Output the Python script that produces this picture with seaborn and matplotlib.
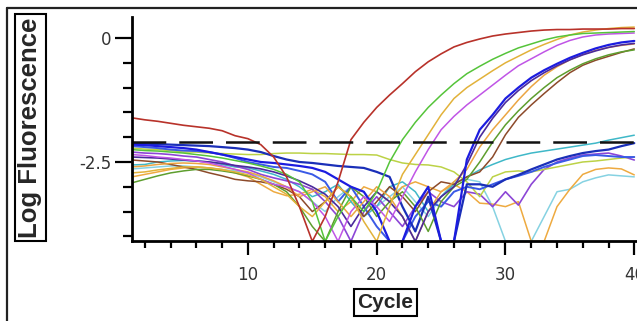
import numpy as np
import pandas as pd
import matplotlib
matplotlib.use("Agg")
import matplotlib.pyplot as plt
from matplotlib.lines import Line2D
import seaborn as sns

cycles = list(range(1, 41))

# amplifying wells
red = [-1.61,-1.65,-1.68,-1.72,-1.76,-1.79,-1.82,-1.87,-1.97,-2.03,-2.15,-2.40,-2.80,-3.40,-4.10,-3.60,-2.90,-2.05,-1.70,-1.40,-1.15,-0.92,-0.68,-0.48,-0.32,-0.18,-0.09,-0.02,0.04,0.08,0.11,0.14,0.16,0.17,0.17,0.18,0.18,0.18,0.19,0.19]
green = [-2.25,-2.27,-2.28,-2.30,-2.32,-2.35,-2.38,-2.42,-2.47,-2.52,-2.58,-2.65,-2.75,-2.90,-3.30,-4.10,-3.60,-3.20,-3.50,-3.10,-2.50,-2.05,-1.70,-1.40,-1.15,-0.92,-0.72,-0.57,-0.43,-0.31,-0.20,-0.12,-0.04,0.02,0.06,0.09,0.10,0.11,0.12,0.13]
yellow = [-2.72,-2.70,-2.66,-2.63,-2.60,-2.60,-2.62,-2.66,-2.70,-2.76,-2.85,-3.00,-3.15,-3.40,-3.60,-3.30,-3.00,-3.20,-3.70,-4.10,-3.40,-2.75,-2.35,-1.95,-1.55,-1.22,-1.00,-0.83,-0.66,-0.50,-0.37,-0.24,-0.13,-0.03,0.06,0.12,0.16,0.19,0.21,0.22]
magenta = [-2.35,-2.37,-2.40,-2.42,-2.45,-2.48,-2.52,-2.58,-2.65,-2.72,-2.85,-2.95,-3.00,-3.10,-3.30,-3.60,-4.10,-3.50,-3.20,-3.40,-3.70,-3.20,-2.70,-2.25,-1.85,-1.58,-1.35,-1.15,-0.95,-0.75,-0.56,-0.42,-0.28,-0.15,-0.05,0.02,0.06,0.08,0.09,0.10]
blue = [-2.15,-2.16,-2.18,-2.20,-2.22,-2.25,-2.30,-2.35,-2.40,-2.45,-2.50,-2.52,-2.55,-2.58,-2.62,-2.70,-2.85,-3.00,-3.10,-3.50,-4.10,-4.10,-3.40,-3.00,-4.10,-4.10,-2.45,-1.85,-1.55,-1.22,-1.00,-0.80,-0.65,-0.52,-0.40,-0.30,-0.21,-0.14,-0.09,-0.06]
indigo = [-2.40,-2.41,-2.42,-2.44,-2.46,-2.48,-2.50,-2.53,-2.57,-2.60,-2.64,-2.70,-2.78,-2.88,-3.00,-3.15,-3.40,-3.80,-3.40,-3.10,-3.30,-3.60,-4.10,-3.50,-3.20,-3.00,-2.55,-2.00,-1.62,-1.30,-1.06,-0.86,-0.70,-0.56,-0.44,-0.34,-0.26,-0.19,-0.14,-0.11]
late_orange = [-2.60,-2.58,-2.55,-2.53,-2.52,-2.53,-2.55,-2.60,-2.65,-2.70,-2.78,-2.88,-3.00,-3.20,-3.10,-3.00,-3.30,-3.60,-3.30,-3.00,-3.20,-3.60,-4.10,-3.50,-3.10,-2.90,-2.65,-2.20,-1.85,-1.55,-1.25,-0.98,-0.75,-0.58,-0.44,-0.33,-0.25,-0.19,-0.15,-0.12]
late_green = [-2.92,-2.85,-2.78,-2.72,-2.68,-2.65,-2.65,-2.68,-2.72,-2.78,-2.85,-2.95,-3.10,-3.40,-3.80,-4.10,-3.50,-3.00,-3.20,-3.60,-3.30,-3.10,-3.40,-3.90,-3.30,-3.00,-2.85,-2.50,-2.10,-1.75,-1.47,-1.22,-1.00,-0.80,-0.65,-0.52,-0.42,-0.34,-0.28,-0.24]
brown = [-2.46,-2.48,-2.50,-2.55,-2.60,-2.65,-2.72,-2.78,-2.85,-2.88,-2.90,-2.95,-3.05,-3.20,-3.50,-3.30,-3.00,-3.20,-3.60,-3.30,-3.00,-3.20,-3.50,-3.10,-2.90,-2.95,-2.80,-2.70,-2.40,-1.95,-1.60,-1.35,-1.12,-0.90,-0.70,-0.55,-0.45,-0.37,-0.29,-0.22]

# non-amplifying wells
navy = [-2.12,-2.13,-2.14,-2.15,-2.16,-2.17,-2.18,-2.20,-2.22,-2.25,-2.30,-2.38,-2.45,-2.50,-2.52,-2.55,-2.58,-2.60,-2.62,-2.70,-2.80,-3.40,-3.90,-3.20,-4.10,-4.10,-2.95,-2.95,-3.00,-2.85,-2.76,-2.65,-2.55,-2.45,-2.38,-2.32,-2.28,-2.25,-2.18,-2.12]
cyan = [-2.56,-2.55,-2.50,-2.48,-2.47,-2.48,-2.50,-2.55,-2.60,-2.62,-2.68,-2.75,-2.85,-3.00,-3.20,-3.10,-2.95,-3.30,-3.60,-3.40,-3.00,-2.90,-3.10,-3.50,-3.20,-2.95,-2.80,-2.66,-2.55,-2.45,-2.38,-2.32,-2.28,-2.24,-2.20,-2.16,-2.12,-2.06,-2.01,-1.96]
blue2 = [-2.18,-2.20,-2.22,-2.25,-2.27,-2.28,-2.30,-2.35,-2.42,-2.50,-2.55,-2.60,-2.62,-2.68,-2.75,-2.90,-3.30,-3.00,-3.40,-3.80,-4.10,-4.10,-3.60,-3.30,-3.40,-3.10,-3.00,-3.05,-2.95,-2.85,-2.78,-2.70,-2.60,-2.52,-2.45,-2.38,-2.36,-2.38,-2.40,-2.40]
purple = [-2.30,-2.32,-2.33,-2.35,-2.38,-2.40,-2.45,-2.50,-2.58,-2.65,-2.75,-2.82,-2.88,-2.95,-3.05,-3.30,-3.60,-4.10,-3.50,-3.20,-3.50,-3.80,-3.40,-3.10,-3.30,-3.40,-3.10,-3.15,-3.40,-3.10,-3.37,-2.95,-2.65,-2.50,-2.42,-2.36,-2.34,-2.32,-2.38,-2.46]
orange = [-2.80,-2.75,-2.70,-2.65,-2.62,-2.60,-2.62,-2.65,-2.72,-2.80,-2.95,-3.10,-3.18,-3.15,-3.05,-3.20,-3.50,-3.30,-3.00,-3.10,-3.30,-3.00,-2.90,-3.00,-3.10,-2.95,-3.10,-3.33,-3.35,-3.40,-3.30,-4.10,-4.10,-3.40,-3.05,-2.75,-2.65,-2.62,-2.64,-2.76]
light_cyan = [-2.64,-2.62,-2.60,-2.58,-2.58,-2.60,-2.62,-2.65,-2.68,-2.72,-2.80,-2.90,-3.00,-3.10,-3.30,-3.50,-3.20,-3.00,-3.10,-3.40,-3.20,-3.00,-3.30,-3.60,-3.20,-2.90,-2.85,-2.90,-3.40,-4.10,-4.10,-4.10,-3.60,-3.10,-3.05,-2.90,-2.82,-2.76,-2.78,-2.80]
yellow_green = [-2.22,-2.24,-2.25,-2.27,-2.30,-2.30,-2.32,-2.33,-2.34,-2.35,-2.35,-2.33,-2.32,-2.32,-2.33,-2.33,-2.34,-2.35,-2.35,-2.36,-2.45,-2.52,-2.55,-2.56,-2.60,-2.70,-2.90,-3.20,-2.80,-2.70,-2.68,-2.70,-2.65,-2.60,-2.55,-2.50,-2.48,-2.45,-2.42,-2.40]

threshold = -2.1
x_major = [10, 20, 30, 40]
y_major = [0, -2.5]
y_major_labels = ["0", "-2.5"]

series = [
    ("light_cyan", light_cyan, "#86d2e2", 1.1),
    ("orange", orange, "#eeaa40", 1.1),
    ("cyan", cyan, "#3fb8c8", 1.1),
    ("purple", purple, "#8c46d6", 1.2),
    ("yellow_green", yellow_green, "#bcd246", 1.1),
    ("blue2", blue2, "#3a5ae6", 1.4),
    ("navy", navy, "#1a2fb8", 1.6),
    ("brown", brown, "#8c4a2a", 1.1),
    ("late_green", late_green, "#5e9e2e", 1.1),
    ("late_orange", late_orange, "#eba542", 1.1),
    ("indigo", indigo, "#4b2a9c", 1.2),
    ("blue", blue, "#1c1ce0", 1.6),
    ("magenta", magenta, "#c055e6", 1.1),
    ("yellow", yellow, "#e2b23a", 1.1),
    ("green", green, "#55c43a", 1.1),
    ("red", red, "#b8322a", 1.2),
]

sns.set_style("white")
plt.rcParams["font.family"] = ["DejaVu Sans"]

fig = plt.figure(figsize=(6.37, 3.21), dpi=100)
fig.patch.set_facecolor("white")
W, H = 637.0, 321.0
ax = fig.add_axes([132 / W, 80 / H, 505.5 / W, 224 / H])

for name, vals, col, lw in series:
    sns.lineplot(x=cycles, y=vals, color=col, linewidth=lw, ax=ax, legend=False)

ax.axhline(threshold, color="#111111", linewidth=1.8, dashes=(13.5, 5.2))

ax.set_xlim(1, 40.25)
ax.set_ylim(-4.093, 0.423)

for s in ["top", "right"]:
    ax.spines[s].set_visible(False)
for s in ["left", "bottom"]:
    ax.spines[s].set_linewidth(2.0)
    ax.spines[s].set_color("black")

ax.set_xticks(x_major)
ax.set_xticklabels([str(v) for v in x_major])
ax.set_xticks(np.arange(2, 41, 2), minor=True)
ax.set_yticks(y_major)
ax.set_yticklabels(y_major_labels)
ax.set_yticks(np.arange(-4.0, 0.01, 0.5), minor=True)

ax.tick_params(axis="both", which="both", bottom=True, left=True, top=False, right=False)
ax.tick_params(axis="x", which="major", direction="out", length=10, width=1.6,
               pad=8, labelsize=12, labelcolor="#333333", color="black")
ax.tick_params(axis="x", which="minor", direction="out", length=5, width=1.6, color="black")
ax.tick_params(axis="y", which="major", direction="out", length=12, width=1.6,
               pad=3, labelsize=12, labelcolor="#333333", color="black")
ax.tick_params(axis="y", which="minor", direction="out", length=6.5, width=1.6, color="black")
ax.set_xlabel("")
ax.set_ylabel("")

# boxed axis titles
fig.text(30.5 / W, 1 - 127.5 / H, "Log Fluorescence", rotation=90, ha="center", va="center",
         fontsize=18.5, fontweight="bold", family=["Liberation Sans", "DejaVu Sans"],
         bbox=dict(boxstyle="square,pad=0.12", fc="white", ec="black", lw=1.5))
fig.text(385.5 / W, 1 - 302.5 / H, "Cycle", ha="center", va="center",
         fontsize=15, fontweight="bold", family=["Liberation Sans", "DejaVu Sans"],
         bbox=dict(boxstyle="square,pad=0.17", fc="white", ec="black", lw=1.5))

# outer frame (top and left edges visible)
fig.add_artist(Line2D([7 / W, 1.0], [1 - 8 / H, 1 - 8 / H], transform=fig.transFigure,
                      color="#222222", linewidth=1.6))
fig.add_artist(Line2D([7 / W, 7 / W], [1 - 8 / H, 0.0], transform=fig.transFigure,
                      color="#222222", linewidth=1.6))

fig.savefig("out.png", dpi=100, facecolor="white")
